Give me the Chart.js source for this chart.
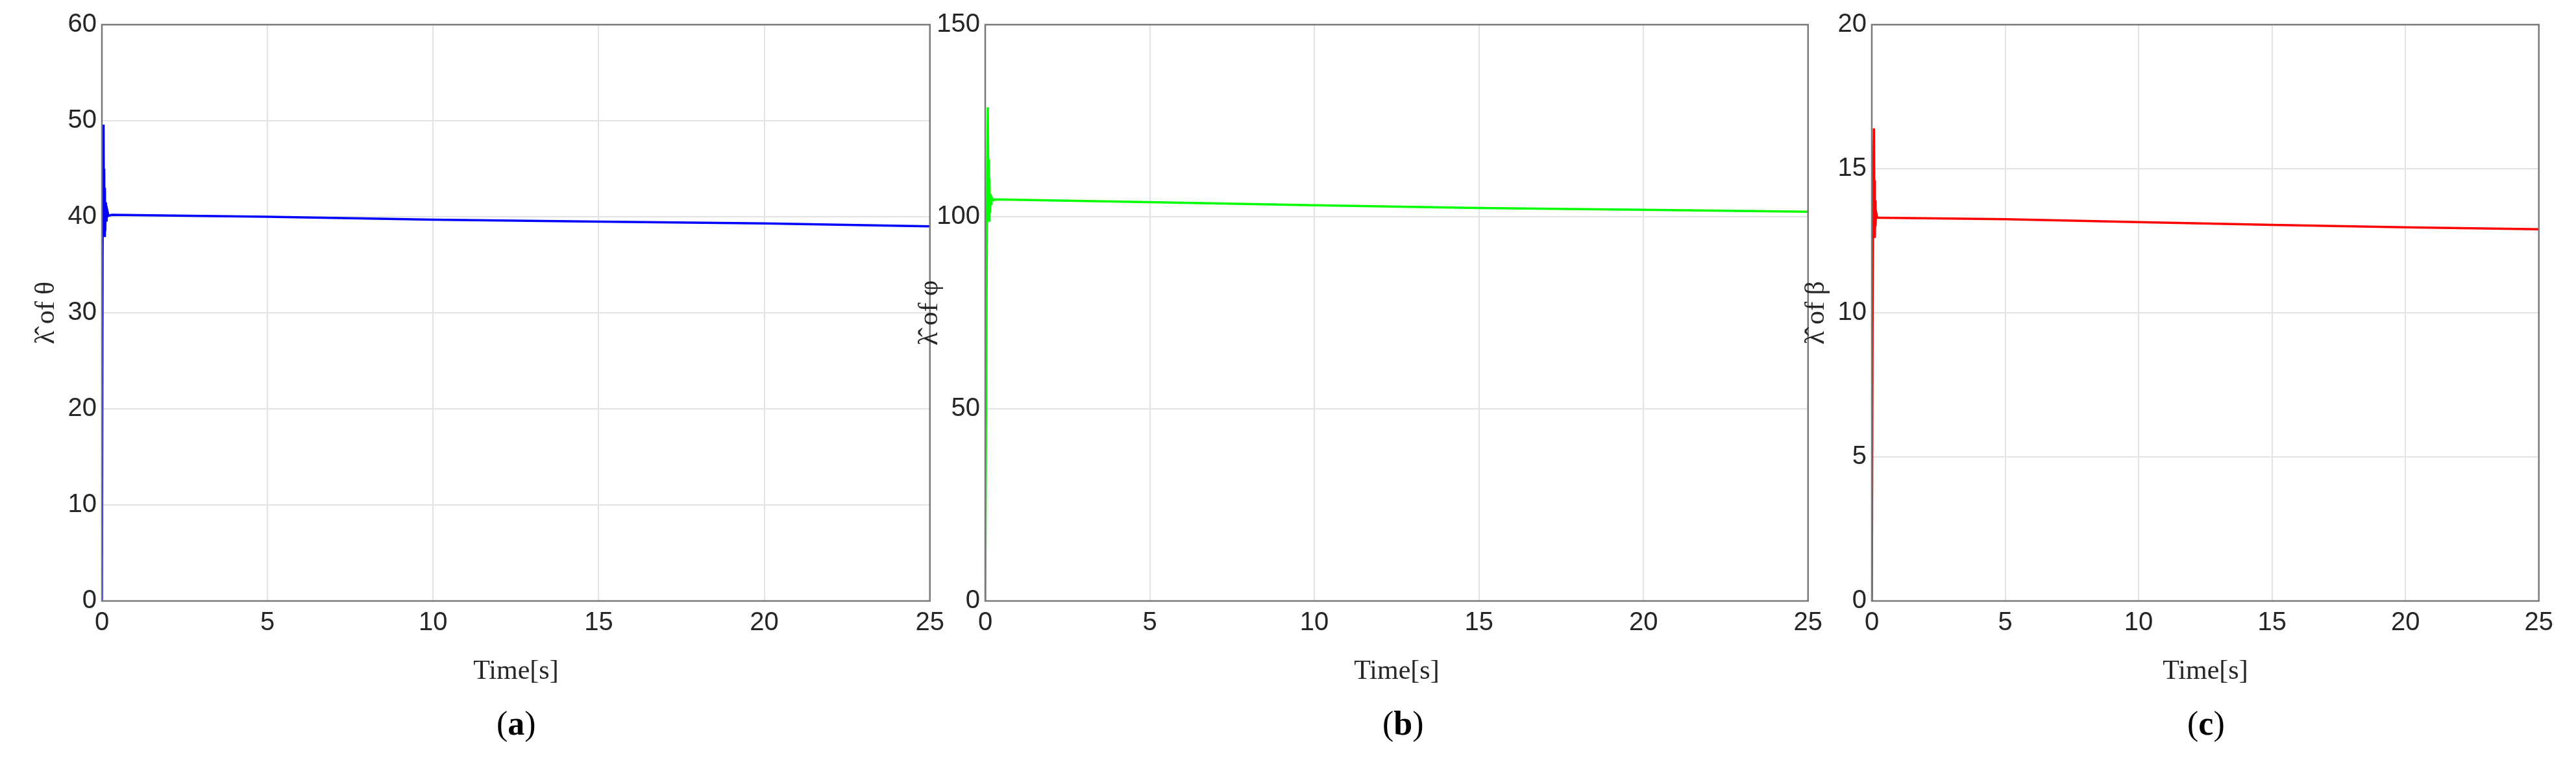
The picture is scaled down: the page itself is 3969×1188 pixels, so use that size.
<!DOCTYPE html>
<html>
<head>
<meta charset="utf-8">
<script src="https://cdn.jsdelivr.net/npm/chart.js@4/dist/chart.umd.min.js"></script>
<style>
  body { margin: 0; background: #fff; width: 3969px; height: 1188px; position: relative; overflow: hidden; }
  .panel { position: absolute; top: 0; height: 1060px; }
  .tag { position: absolute; top: 1085px; font-family: "Liberation Serif", serif; font-size: 52px; }
  .tag b { font-weight: bold; }
</style>
</head>
<body>
<div class="panel" style="left:45px;width:1420px"><canvas id="ca"></canvas></div>
<div class="panel" style="left:1406px;width:1412px"><canvas id="cb"></canvas></div>
<div class="panel" style="left:2772px;width:1172px"><canvas id="cc"></canvas></div>
<div class="tag" style="left:765px">(<b>a</b>)</div>
<div class="tag" style="left:2130px">(<b>b</b>)</div>
<div class="tag" style="left:3370px">(<b>c</b>)</div>
<script>
// time points [s]
var timeA = [0, 0.02, 0.04, 0.05, 0.06, 0.07, 0.08, 0.09, 0.1, 0.12, 0.14, 0.16, 0.2, 0.3, 5, 10, 15, 20, 25];
var lambdaTheta = [0, 36, 48, 49.6, 40, 45, 38, 43, 38.5, 41.5, 39.5, 40.7, 40.1, 40.2, 40.0, 39.7, 39.5, 39.3, 39.0];

var timeB = [0, 0.03, 0.06, 0.08, 0.1, 0.11, 0.12, 0.13, 0.14, 0.16, 0.18, 0.2, 0.25, 0.3, 5, 10, 15, 20, 25];
var lambdaPhi = [0, 60, 110, 128.5, 100, 115, 99, 110, 101, 106, 103, 105, 104.3, 104.5, 103.8, 103.0, 102.3, 101.8, 101.3];

var timeC = [0, 0.03, 0.06, 0.08, 0.1, 0.11, 0.12, 0.13, 0.14, 0.16, 0.2, 0.3, 5, 10, 15, 20, 25];
var lambdaBeta = [0, 10, 15, 16.4, 12.8, 14.6, 12.6, 13.9, 13.0, 13.5, 13.3, 13.3, 13.25, 13.15, 13.05, 12.97, 12.9];

function pts(xs, ys) {
    return xs.map(function(x, i) { return {x: x, y: ys[i]}; });
}

var frame = {
    id: 'frame',
    afterDraw: function(chart) {
        var a = chart.chartArea, ctx = chart.ctx;
        ctx.save();
        ctx.strokeStyle = '#7a7a7a';
        ctx.lineWidth = 2.5;
        ctx.strokeRect(a.left, a.top, a.right - a.left, a.bottom - a.top);
        ctx.restore();
    }
};

function makeChart(id, xs, ys, color, yMax, yStep, yTitle) {
    new Chart(document.getElementById(id), {
        type: 'line',
        data: { datasets: [{ data: pts(xs, ys), borderColor: color, borderWidth: 3.5, pointRadius: 0, tension: 0 }] },
        options: {
            responsive: true,
            maintainAspectRatio: false,
            animation: false,
            layout: { padding: { top: 38, right: 30 } },
            plugins: { legend: { display: false }, tooltip: { enabled: false } },
            scales: {
                x: {
                    type: 'linear', min: 0, max: 25,
                    ticks: { stepSize: 5, color: '#262626', font: { family: 'Liberation Sans', size: 40 }, padding: 10 },
                    grid: { color: '#e3e3e3', lineWidth: 2, drawTicks: false },
                    border: { display: false },
                    title: { display: true, text: 'Time[s]', color: '#262626', font: { family: 'Liberation Serif', size: 42 }, padding: 0 },
                    afterFit: function(s) { s.height = 134; }
                },
                y: {
                    min: 0, max: yMax,
                    ticks: { stepSize: yStep, color: '#262626', font: { family: 'Liberation Sans', size: 40 }, padding: 8 },
                    grid: { color: '#e3e3e3', lineWidth: 2, drawTicks: false },
                    border: { display: false },
                    title: { display: true, text: yTitle, color: '#262626', font: { family: 'Liberation Serif', size: 42 }, padding: 2 },
                    afterFit: function(s) { s.width = 112; }
                }
            }
        },
        plugins: [frame]
    });
}

makeChart('ca', timeA, lambdaTheta, '#0000ff', 60, 10, 'λ̂ of θ');
makeChart('cb', timeB, lambdaPhi, '#00ff00', 150, 50, 'λ̂ of φ');
makeChart('cc', timeC, lambdaBeta, '#ff0000', 20, 5, 'λ̂ of β');
</script>
</body>
</html>
